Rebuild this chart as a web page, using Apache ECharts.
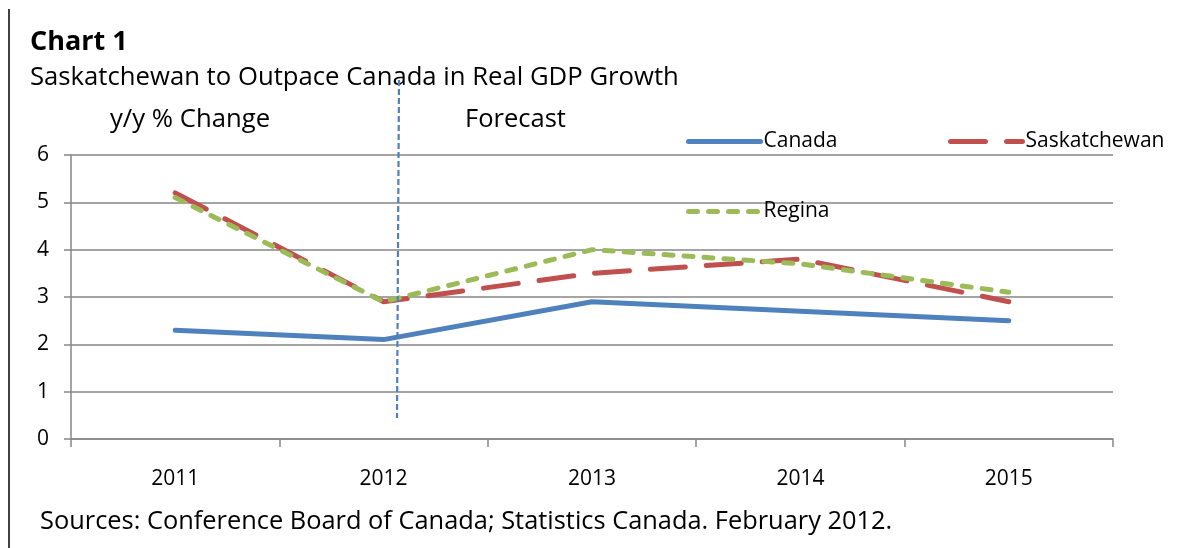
<!DOCTYPE html>
<html>
<head>
<meta charset="utf-8">
<script src="https://cdn.jsdelivr.net/npm/echarts@6/dist/echarts.min.js"></script>
<style>
  html, body { margin: 0; padding: 0; background: #fff; }
  #chart { width: 1193px; height: 548px; }
</style>
</head>
<body>
<div id="chart"></div>
<script>
// data
const years = ['2011', '2012', '2013', '2014', '2015'];
const canada = [2.3, 2.1, 2.9, 2.7, 2.5];
const saskatchewan = [5.2, 2.9, 3.5, 3.8, 2.9];
const regina = [5.1, 2.9, 4.0, 3.7, 3.1];

const FONT = '"Open Sans", "Noto Sans", sans-serif';
const GRID_GREY = '#868686';
const LINE_W = 5;

const chart = echarts.init(document.getElementById('chart'));

// legend: line only, no symbol in the middle
const legendBase = {
  padding: 0,
  itemWidth: 72,
  itemHeight: 14,
  itemGap: 0,
  itemStyle: { opacity: 0 },
  lineStyle: { width: LINE_W, cap: 'round' },
  textStyle: { fontFamily: FONT, fontSize: 21, color: '#000', padding: [0, 0, 0, -2] }
};

chart.setOption({
  animation: false,
  backgroundColor: '#fff',
  grid: { left: 71, right: 80, top: 155, bottom: 109 },
  legend: [
    Object.assign({ data: ['Canada'], left: 686, top: 131 }, legendBase),
    Object.assign({ data: ['Saskatchewan'], left: 948, top: 131 }, legendBase),
    Object.assign({ data: ['Regina'], left: 686, top: 201 }, legendBase)
  ],
  xAxis: {
    type: 'category',
    data: years,
    boundaryGap: true,
    axisLine: { lineStyle: { color: GRID_GREY, width: 1.5 } },
    axisTick: { show: true, length: 8, lineStyle: { color: GRID_GREY, width: 1.5 } },
    axisLabel: { color: '#000', fontFamily: FONT, fontSize: 21, margin: 30 }
  },
  yAxis: {
    type: 'value',
    min: 0,
    max: 6,
    interval: 1,
    axisLine: { show: true, lineStyle: { color: GRID_GREY, width: 1.5 } },
    axisTick: { show: true, length: 7, lineStyle: { color: GRID_GREY, width: 1.5 } },
    axisLabel: { color: '#000', fontFamily: FONT, fontSize: 21, margin: 22 },
    splitLine: { lineStyle: { color: GRID_GREY, width: 1.5 } }
  },
  series: [
    {
      name: 'Canada', type: 'line', data: canada, symbol: 'none',
      color: '#4F81BD',
      lineStyle: { width: LINE_W, color: '#4F81BD', cap: 'round' }
    },
    {
      name: 'Saskatchewan', type: 'line', data: saskatchewan, symbol: 'none',
      color: '#C0504D',
      lineStyle: { width: LINE_W, color: '#C0504D', type: [35, 21], cap: 'round' }
    },
    {
      name: 'Regina', type: 'line', data: regina, symbol: 'none',
      color: '#9BBB59',
      lineStyle: { width: LINE_W, color: '#9BBB59', type: [9, 11], cap: 'round' }
    }
  ],
  graphic: [
    // left border of the frame
    { type: 'line', shape: { x1: 9, y1: 9, x2: 9, y2: 548 }, style: { stroke: '#000', lineWidth: 1.5 } },
    // forecast divider
    { type: 'line', z: 10, shape: { x1: 399, y1: 80, x2: 397, y2: 418 },
      style: { stroke: '#4F81BD', lineWidth: 2.2, lineDash: [6, 3] } },
    { type: 'text', x: 30, y: 42,
      style: { text: 'Chart 1', font: 'bold 27px ' + FONT, fill: '#000', verticalAlign: 'middle' } },
    { type: 'text', x: 30, y: 78,
      style: { text: 'Saskatchewan to Outpace Canada in Real GDP Growth', font: '25.7px ' + FONT, fill: '#000', verticalAlign: 'middle' } },
    { type: 'text', x: 110, y: 120,
      style: { text: 'y/y % Change', font: '25.7px ' + FONT, fill: '#000', verticalAlign: 'middle' } },
    { type: 'text', x: 465, y: 120,
      style: { text: 'Forecast', font: '25.5px ' + FONT, fill: '#000', verticalAlign: 'middle' } },
    { type: 'text', x: 40, y: 522,
      style: { text: 'Sources: Conference Board of Canada; Statistics Canada. February 2012.', font: '25.4px ' + FONT, fill: '#000', verticalAlign: 'middle' } }
  ]
});
</script>
</body>
</html>
